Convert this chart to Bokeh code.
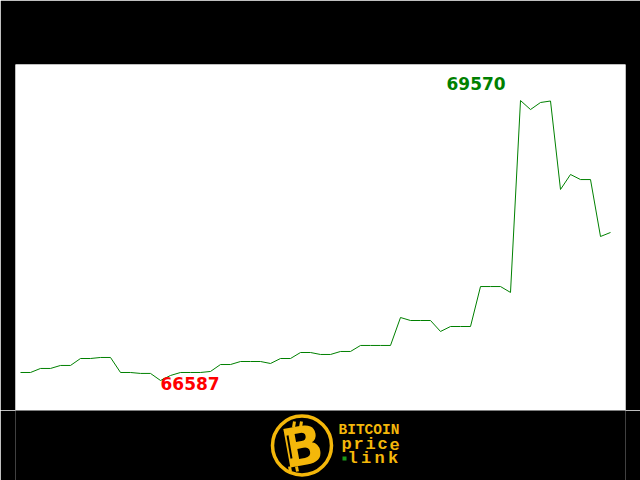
from bokeh.plotting import figure
from bokeh.layouts import column
from bokeh.models import Range1d, ColumnDataSource
from bokeh.core.properties import value
from bokeh.embed import file_html
from bokeh.resources import INLINE

# ---- data ----
prices = [66672, 66672, 66715, 66715, 66747, 66747, 66821, 66821, 66832, 66832,
          66672, 66672, 66662, 66662, 66587, 66640, 66672, 66672, 66672, 66683,
          66757, 66757, 66789, 66789, 66789, 66768, 66821, 66821, 66885, 66885,
          66864, 66864, 66896, 66896, 66960, 66960, 66960, 66960, 67258, 67226,
          67226, 67226, 67109, 67162, 67162, 67162, 67588, 67588, 67588, 67525,
          69570, 69474, 69549, 69565, 68622, 68782, 68728, 68728, 68121, 68164]
steps = list(range(len(prices)))

GOLD = "#f4b70a"

# ---- main chart ----
p = figure(width=640, height=410, output_backend="svg", toolbar_location=None,
           x_axis_location=None, y_axis_location=None,
           x_range=Range1d(-0.5, 60.5), y_range=Range1d(66267, 69954),
           min_border_left=15, min_border_right=15, min_border_top=64, min_border_bottom=0)
p.background_fill_color = "white"
p.border_fill_color = "black"
p.outline_line_color = None
p.grid.visible = False

src = ColumnDataSource(dict(x=steps, y=prices))
p.line("x", "y", source=src, line_color="#008000", line_width=1)

imax = max(steps, key=lambda i: prices[i])
imin = min(steps, key=lambda i: prices[i])
p.text(x=[imax], y=[prices[imax]], text=[str(prices[imax])], x_offset=-74, y_offset=-17,
       text_font=value("DejaVu Sans"), text_font_style="bold", text_font_size="17px",
       text_color="#008000", text_align="left", text_baseline="alphabetic")
p.text(x=[imin], y=[prices[imin]], text=[str(prices[imin])], x_offset=0, y_offset=3,
       text_font=value("DejaVu Sans"), text_font_style="bold", text_font_size="17px",
       text_color="#ff0000", text_align="left", text_baseline="alphabetic")

# ---- logo strip (frame aligned with the chart frame; x in page pixels) ----
lg = figure(width=640, height=70, output_backend="svg", toolbar_location=None,
            x_axis_location=None, y_axis_location=None,
            x_range=Range1d(15, 625), y_range=Range1d(480, 410),
            min_border_left=15, min_border_right=15,
            min_border_top=0, min_border_bottom=0)
lg.background_fill_color = "black"
lg.border_fill_color = "black"
lg.outline_line_color = None
lg.grid.visible = False

lg.circle(x=[301.5], y=[445], radius=29.5, fill_color="black",
          line_color=GOLD, line_width=3.5)
# bitcoin ticks
lg.segment(x0=[293, 300, 289, 296], y0=[427, 427, 466, 466],
           x1=[294, 301, 290, 297], y1=[421, 421, 471, 471],
           line_color=GOLD, line_width=3)
lg.text(x=[302], y=[446], text=["B"], angle=0.18,
        text_font=value("DejaVu Sans"), text_font_style="bold", text_font_size="54px",
        text_color=GOLD, text_align="center", text_baseline="middle")
# chain in stem
lg.segment(x0=[287], y0=[435], x1=[291], y1=[458], line_color="black", line_width=2)

lg.text(x=[338], y=[429], text=["BITCOIN"],
        text_font=value("Liberation Mono"), text_font_style="bold", text_font_size="14.5px",
        text_color=GOLD, text_align="left", text_baseline="alphabetic")
word2 = "price"
lg.text(x=[341 + 12 * i for i in range(len(word2))], y=[444] * len(word2), text=list(word2),
        text_font=value("Liberation Mono"), text_font_style="bold", text_font_size="17px",
        text_color=GOLD, text_align="left", text_baseline="alphabetic")
word3 = "link"
lg.text(x=[347 + 13.5 * i for i in range(len(word3))], y=[458] * len(word3), text=list(word3),
        text_font=value("Liberation Mono"), text_font_style="bold", text_font_size="17px",
        text_color=GOLD, text_align="left", text_baseline="alphabetic")
lg.scatter(x=[344], y=[458], size=4, marker="square", fill_color="#1a9a1a", line_color=None)

layout = column(p, lg, spacing=0)
html = file_html(layout, INLINE)
html = html.replace("<body>", '<body style="background-color:#000000;overflow:hidden;">', 1)
open("out.html", "w").write(html)
